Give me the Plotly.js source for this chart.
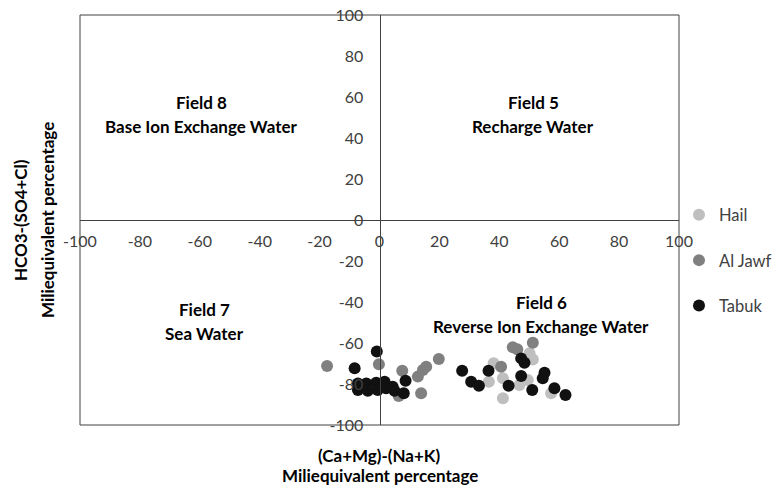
<!DOCTYPE html>
<html>
<head>
<meta charset="utf-8">
<script src="https://cdn.plot.ly/plotly-3.0.1.min.js"></script>
<style>html,body{margin:0;padding:0;background:#fff;}#chart{width:775px;height:486px;}</style>
</head>
<body>
<div id="chart"></div>
<script>
const seriesNames = ["Hail", "Al Jawf", "Tabuk"];
const hailX = [36.5, 38.1, 41.2, 41.2, 50.1, 51.2, 46.7, 49.5, 57.3];
const hailY = [-78.9, -69.9, -77.2, -87.0, -65.0, -68.0, -80.5, -78.0, -84.5];
const alJawfX = [-17.5, -0.2, 7.6, 6.4, 13.9, 12.8, 14.5, 15.6, 19.8, 40.6, 44.5, 46.0, 51.2];
const alJawfY = [-71.2, -70.4, -73.5, -85.9, -84.5, -76.4, -73.2, -71.6, -67.8, -71.6, -62.1, -63.1, -59.9];
const tabukX = [-0.9, -8.3, -7.2, -7.2, -4.4, -3.9, -1.1, -0.6, 1.7, 2.2, 4.4, 5.0, 8.7, 8.1,
                27.6, 30.6, 33.2, 36.4, 43.1, 47.3, 48.4, 47.3, 51.0, 55.1, 54.5, 58.4, 62.1];
const tabukY = [-64.2, -72.3, -79.7, -82.9, -79.7, -83.3, -79.4, -82.9, -78.9, -82.1, -81.3, -83.3, -78.4, -84.5,
                -73.5, -78.9, -80.8, -73.5, -80.8, -67.5, -69.6, -76.1, -82.9, -74.5, -77.2, -82.1, -85.4];
const tickVals = [-100, -80, -60, -40, -20, 0, 20, 40, 60, 80, 100];
const fieldLabels = [
  {x: -59.5, y: 51.7, l1: "Field 8", l2: "Base Ion Exchange Water"},
  {x: 51.4, y: 51.7, l1: "Field 5", l2: "Recharge Water"},
  {x: -58.3, y: -49.3, l1: "Field 7", l2: "Sea Water"},
  {x: 54.0, y: -46.3, l1: "Field 6", l2: "Reverse Ion Exchange Water"}
];
const xTitle = ["(Ca+Mg)-(Na+K)", "Miliequivalent percentage"];
const yTitle = ["HCO3-(SO4+Cl)", "Miliequivalent percentage"];

const colors = ["#BFBFBF", "#808080", "#111111"];
const xs = [hailX, alJawfX, tabukX];
const ys = [hailY, alJawfY, tabukY];
const traces = seriesNames.map((n, i) => ({
  type: "scatter", mode: "markers", name: n, x: xs[i], y: ys[i],
  legendgroup: "g" + i,
  marker: {color: colors[i], size: 12, line: {width: 0}}
}));

const FONT = "Lato, 'Open Sans', sans-serif";
const TS = 17;
const annotations = [];
fieldLabels.forEach(f => {
  annotations.push({x: f.x, y: f.y, xref: "x", yref: "y", text: "<b>" + f.l1 + "</b>", showarrow: false,
    yshift: 12, font: {family: FONT, size: TS, color: "#000"}});
  annotations.push({x: f.x, y: f.y, xref: "x", yref: "y", text: "<b>" + f.l2 + "</b>", showarrow: false,
    yshift: -12, font: {family: FONT, size: TS, color: "#000"}});
});
annotations.push({x: 0.5, y: -0.075, xref: "paper", yref: "paper", yanchor: "middle", text: "<b>" + xTitle[0] + "</b>", showarrow: false, font: {family: FONT, size: TS, color: "#000"}});
annotations.push({x: 0.5, y: -0.123, xref: "paper", yref: "paper", yanchor: "middle", text: "<b>" + xTitle[1] + "</b>", showarrow: false, font: {family: FONT, size: TS, color: "#000"}});
annotations.push({x: -0.1, y: 0.5, xref: "paper", yref: "paper", xanchor: "center", text: "<b>" + yTitle[0] + "</b>", textangle: -90, showarrow: false, font: {family: FONT, size: TS, color: "#000"}});
annotations.push({x: -0.055, y: 0.5, xref: "paper", yref: "paper", xanchor: "center", text: "<b>" + yTitle[1] + "</b>", textangle: -90, showarrow: false, font: {family: FONT, size: TS, color: "#000"}});

const layout = {
  width: 775, height: 486,
  margin: {l: 80, r: 96, t: 15, b: 61, autoexpand: false},
  paper_bgcolor: "#fff", plot_bgcolor: "#fff",
  font: {family: FONT, size: 16, color: "#404040"},
  xaxis: {range: [-100, 100], tickvals: tickVals, ticktext: tickVals.map(String), anchor: "free", position: 0.5,
    showline: true, linecolor: "#404040", linewidth: 1, showgrid: false, zeroline: false, ticks: "",
    ticklabelstandoff: 7, tickfont: {family: FONT, size: 16, color: "#404040"}, fixedrange: true, automargin: false},
  yaxis: {range: [-100, 100], tickvals: tickVals, ticktext: tickVals.map(String), anchor: "free", position: 0.5,
    showline: true, linecolor: "#404040", linewidth: 1, showgrid: false, zeroline: false, ticks: "",
    ticklabelstandoff: 13, tickfont: {family: FONT, size: 16, color: "#404040"}, fixedrange: true, automargin: false},
  shapes: [{type: "rect", xref: "paper", yref: "paper", x0: 0, x1: 1, y0: 0, y1: 1, line: {color: "#404040", width: 1}}],
  showlegend: true,
  legend: {x: 1.0, xanchor: "left", y: 0.555, yanchor: "top", tracegroupgap: 21, itemwidth: 30,
    font: {family: FONT, size: 16.5, color: "#404040"}, bgcolor: "rgba(0,0,0,0)"},
  annotations: annotations
};
Plotly.newPlot("chart", traces, layout, {displayModeBar: false, staticPlot: true});
</script>
</body>
</html>
